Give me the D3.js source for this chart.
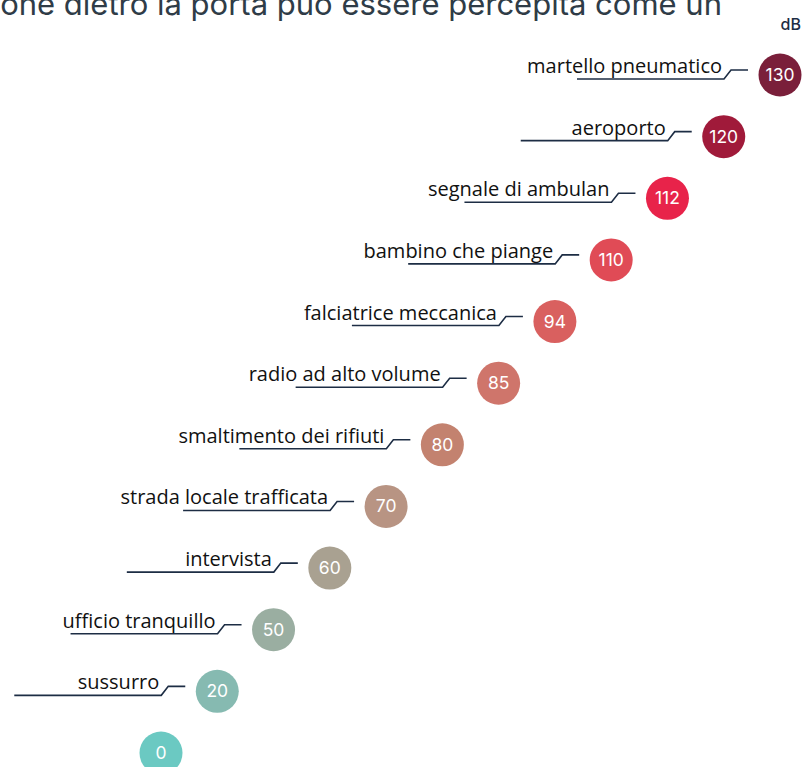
<!DOCTYPE html>
<html>
<head>
<meta charset="utf-8">
<script src="https://cdn.jsdelivr.net/npm/d3@7"></script>
<style>
  html, body { margin: 0; padding: 0; background: #fff; overflow: hidden; }
  #chart svg { display: block; }
</style>
</head>
<body>
<div id="chart"></div>
<script>
// Noise levels, loudest first
const labels = [
    'martello pneumatico', 'aeroporto', 'segnale di ambulan', 'bambino che piange',
    'falciatrice meccanica', 'radio ad alto volume', 'smaltimento dei rifiuti',
    'strada locale trafficata', 'intervista', 'ufficio tranquillo', 'sussurro', ''
];
const decibels = [130, 120, 112, 110, 94, 85, 80, 70, 60, 50, 20, 0];
const colors = [
    '#7a1f3a', '#a01a3a', '#e8234a', '#e04b56', '#d9605f', '#cf756b',
    '#c3826f', '#b89483', '#a9a191', '#9aaea1', '#86bab1', '#6bc9c2'
];
const titleText = 'Una conversazione dietro la porta può essere percepita come un';
const unitText = 'dB';

const width = 811;
const height = 767;

const svg = d3.select('#chart')
    .append('svg')
    .attr('width', width)
    .attr('height', height)
    .attr('viewBox', [0, 0, width, height]);

const idx = d3.range(decibels.length);

// circles step up a staircase: one row per category
const x = d3.scalePoint().domain(idx).range([780, 161]);
const y = d3.scalePoint().domain(idx).range([75, 753]);
const r = 21.5;

// title (cut off at the top of the frame, as in the source)
svg.append('text')
    .attr('x', 722)
    .attr('y', 15)
    .attr('text-anchor', 'end')
    .style('font-family', 'Inter, "Open Sans", sans-serif')
    .style('font-size', '31px')
    .style('fill', '#2f3c47')
    .text(titleText);

svg.append('text')
    .attr('x', 801)
    .attr('y', 30)
    .attr('text-anchor', 'end')
    .style('font-family', 'Inter, sans-serif')
    .style('font-size', '16px')
    .style('font-weight', 500)
    .style('fill', '#1d2d44')
    .text(unitText);

const rows = svg.append('g')
    .selectAll('g')
    .data(idx)
    .join('g')
    .attr('transform', i => `translate(${x(i)},${y(i)})`);

// leader line under each label
rows.filter(i => labels[i] !== '')
    .append('path')
    .attr('d', `M-32,-5H-49L-56,4H-203`)
    .attr('fill', 'none')
    .attr('stroke', '#1d2d44')
    .attr('stroke-width', 1.6);

rows.filter(i => labels[i] !== '')
    .append('text')
    .attr('x', -58)
    .attr('y', -2)
    .attr('text-anchor', 'end')
    .style('font-family', '"Open Sans", sans-serif')
    .style('font-size', '20px')
    .style('fill', '#111')
    .text(i => labels[i]);

rows.append('circle')
    .attr('r', r)
    .attr('fill', i => colors[i]);

rows.append('text')
    .attr('y', 6)
    .attr('text-anchor', 'middle')
    .style('font-family', 'Inter, sans-serif')
    .style('font-size', '17.5px')
    .style('fill', '#fff')
    .text(i => decibels[i]);
</script>
</body>
</html>
